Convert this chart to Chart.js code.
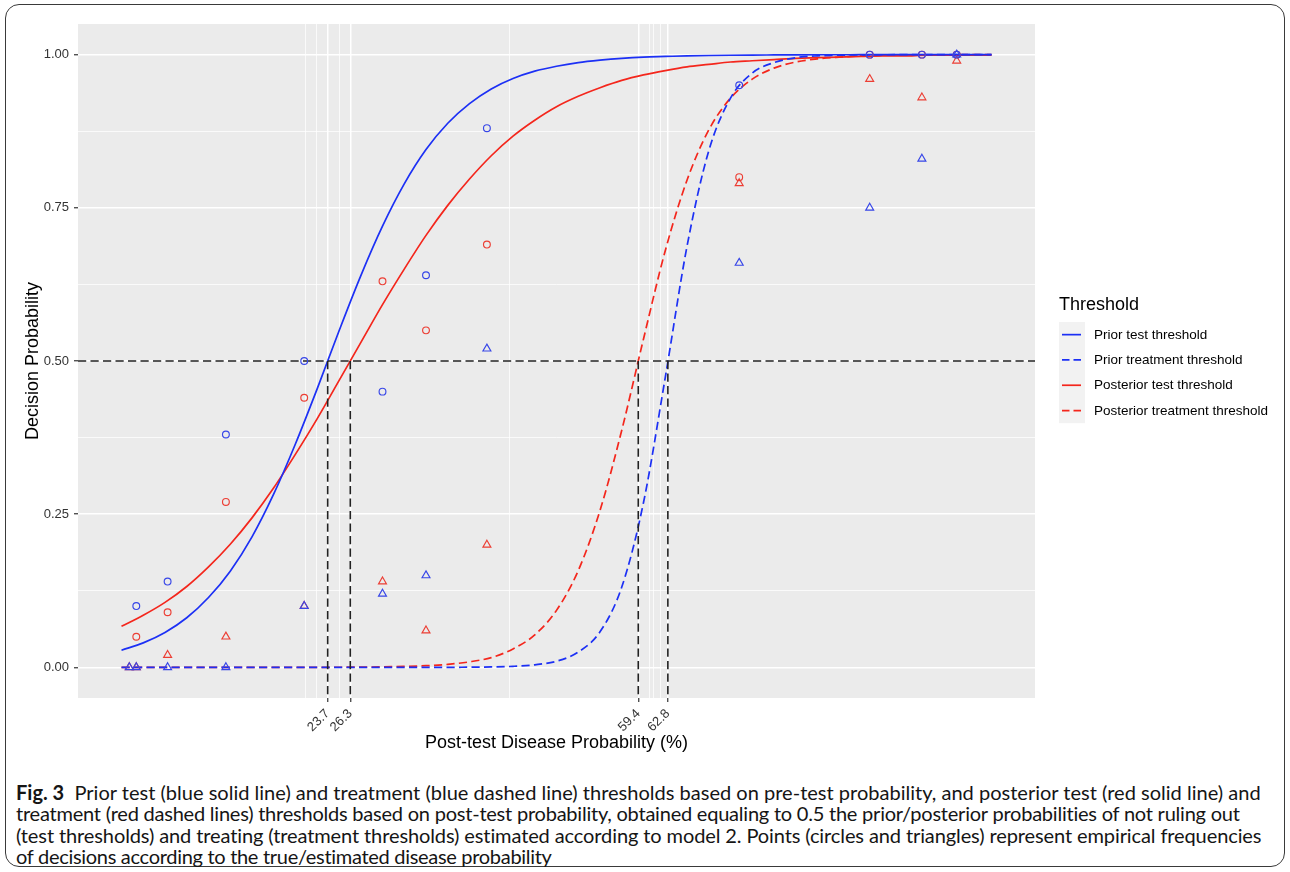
<!DOCTYPE html>
<html>
<head>
<meta charset="utf-8">
<script src="https://cdn.jsdelivr.net/npm/chart.js@4.4.1/dist/chart.umd.min.js"></script>
<style>
  html, body { margin: 0; padding: 0; background: #ffffff; }
  body { width: 1290px; height: 872px; position: relative; overflow: hidden; }
  #frame { position: absolute; left: 5px; top: 4px; width: 1280px; height: 863px; box-sizing: border-box;
           border: 1.5px solid #3a3a3a; border-radius: 14px; }
  #wrap { position: absolute; left: 0; top: 0; width: 1290px; height: 770px; }
  #c { display: block; }
  #caption { position: absolute; left: 16px; top: 782px; font-family: Lato, 'Open Sans', sans-serif;
             font-size: 18px; line-height: 21.4px; color: #151515; white-space: nowrap; }
  #caption div { height: 21.4px; }
  #caption b { font-weight: 700; }
</style>
</head>
<body>
<div id="frame"></div>
<div id="wrap"><canvas id="c" width="1290" height="770"></canvas></div>
<div id="caption">
  <div><span data-w="1246"><b>Fig. 3</b>&nbsp; Prior test (blue solid line) and treatment (blue dashed line) thresholds based on pre-test probability, and posterior test (red solid line) and</span></div>
  <div><span data-w="1224">treatment (red dashed lines) thresholds based on post-test probability, obtained equaling to 0.5 the prior/posterior probabilities of not ruling out</span></div>
  <div><span data-w="1246">(test thresholds) and treating (treatment thresholds) estimated according to model 2. Points (circles and triangles) represent empirical frequencies</span></div>
  <div><span data-w="536">of decisions according to the true/estimated disease probability</span></div>
</div>
<script>
// ---------------- data ----------------
const CURVE_X = [0, 2.5, 5, 7.5, 10, 12.5, 15, 17.5, 20, 22.5, 25, 27.5, 30, 32.5, 35, 37.5, 40, 42.5, 45, 47.5,
                 50, 52.5, 55, 57.5, 60, 62.5, 65, 67.5, 70, 72.5, 75, 77.5, 80, 82.5, 85, 87.5, 90, 92.5, 95, 97.5, 100];

const PRIOR_TEST = [0.028, 0.040, 0.057, 0.081, 0.114, 0.157, 0.213, 0.283, 0.365, 0.455, 0.549, 0.639, 0.720, 0.789, 0.845,
                    0.888, 0.920, 0.944, 0.961, 0.973, 0.981, 0.987, 0.991, 0.994, 0.996, 0.997, 0.998, 0.9986, 0.999, 0.9993,
                    0.9995, 0.9997, 0.9998, 0.9998, 0.9999, 0.9999, 0.9999, 1, 1, 1, 1];

const PRIOR_TREATMENT = [0, 0, 0, 0, 0, 0, 0, 0, 0, 0, 0, 0, 0, 0, 0, 0, 0.0003, 0.0007, 0.0017, 0.0042,
                         0.010, 0.025, 0.058, 0.131, 0.269, 0.473, 0.687, 0.843, 0.929, 0.970, 0.987, 0.995, 0.998, 0.9991,
                         0.9996, 0.9998, 0.9999, 1, 1, 1, 1];

const POSTERIOR_TEST = [0.067, 0.085, 0.106, 0.132, 0.164, 0.201, 0.244, 0.293, 0.348, 0.406, 0.468, 0.530, 0.592, 0.650, 0.705,
                        0.754, 0.797, 0.835, 0.867, 0.893, 0.915, 0.932, 0.946, 0.958, 0.967, 0.974, 0.980, 0.984, 0.988, 0.990,
                        0.992, 0.994, 0.995, 0.996, 0.997, 0.998, 0.998, 0.999, 0.999, 0.999, 0.999];

const POSTERIOR_TREATMENT = [0, 0, 0, 0, 0, 0, 0, 0, 0.0001, 0.0001, 0.0002, 0.0004, 0.0008, 0.0015, 0.0027, 0.0049, 0.009,
                             0.016, 0.030, 0.053, 0.093, 0.158, 0.256, 0.387, 0.536, 0.680, 0.795, 0.877, 0.929, 0.960, 0.978,
                             0.988, 0.993, 0.996, 0.998, 0.999, 0.9994, 0.9997, 0.9998, 0.9999, 0.9999];

// empirical frequencies (points)
const POINT_X = [0.9, 1.7, 5.3, 12, 21, 30, 35, 42, 71, 86, 92, 96];
const PRIOR_TEST_FREQ      = [null, 0.10, 0.14, 0.38, 0.50, 0.45, 0.64, 0.88, 0.95, 1.00, 1.00, 1.00];  // blue circles
const POSTERIOR_TEST_FREQ  = [null, 0.05, 0.09, 0.27, 0.44, 0.63, 0.55, 0.69, 0.80, 1.00, 1.00, 1.00];  // red circles
const PRIOR_TREAT_FREQ     = [0, 0, 0, 0, 0.10, 0.12, 0.15, 0.52, 0.66, 0.75, 0.83, 1.00];             // blue triangles
const POSTERIOR_TREAT_FREQ = [0, 0, 0.02, 0.05, 0.10, 0.14, 0.06, 0.20, 0.79, 0.96, 0.93, 0.99];       // red triangles

// thresholds (x axis tick labels) and decision level
const THRESHOLDS = [23.7, 26.3, 59.4, 62.8];
const THRESHOLD_LEVEL = 0.5;
const X_MINOR_BREAKS = [21.1, 22.4, 25.0, 44.55, 60.7, 61.1, 62.0];
const Y_MAJOR_BREAKS = [0, 0.25, 0.5, 0.75, 1];
const Y_MINOR_BREAKS = [0.125, 0.375, 0.625, 0.875];
const X_LIMITS = [-5, 105];
const Y_LIMITS = [-0.05, 1.05];

const LEGEND_TITLE = 'Threshold';
const SERIES_LABELS = ['Prior test threshold', 'Prior treatment threshold', 'Posterior test threshold', 'Posterior treatment threshold'];

// ---------------- styling ----------------
const BLUE = 'rgb(28,48,245)';
const RED = 'rgb(244,38,28)';
const BLUE_PT = 'rgb(55,70,232)';
const RED_PT = 'rgb(236,62,52)';
const DASH = [8.2, 4.3];
const FONT = "'Liberation Sans', Arial, Helvetica, sans-serif";

const toXY = (xs, ys) => xs.map((x, i) => ({ x: x, y: ys[i] })).filter(p => p.y !== null && p.y !== undefined);
const near = (a, b) => Math.abs(a - b) < 1e-6;
const isMajorX = v => THRESHOLDS.some(t => near(t, v));
const isMajorY = v => Y_MAJOR_BREAKS.some(t => near(t, v));

function curve(label, ys, color, dashed, order, legendIndex) {
  return {
    type: 'line', label: label, data: toXY(CURVE_X, ys), borderColor: color, backgroundColor: color,
    borderWidth: 1.7, borderDash: dashed ? DASH : [], pointRadius: 0, pointHoverRadius: 0,
    cubicInterpolationMode: 'monotone', fill: false, order: order, inLegend: true, legendIndex: legendIndex
  };
}
function pts(label, ys, color, style, r, order) {
  return {
    type: 'scatter', label: label, data: toXY(POINT_X, ys), borderColor: color, backgroundColor: 'rgba(0,0,0,0)',
    pointStyle: style, pointRadius: r, pointBorderWidth: 1.15, pointHoverRadius: r, showLine: false, order: order
  };
}
function refLine(data, order) {
  return {
    type: 'line', label: 'ref', data: data, borderColor: '#222222', borderWidth: 1.6, borderDash: DASH,
    pointRadius: 0, pointHoverRadius: 0, fill: false, order: order, tension: 0
  };
}

const datasets = [
  pts('Prior treatment frequency', PRIOR_TREAT_FREQ, BLUE_PT, 'triangle', 4.6, 0),
  pts('Prior test frequency', PRIOR_TEST_FREQ, BLUE_PT, 'circle', 3.4, 1),
  pts('Posterior treatment frequency', POSTERIOR_TREAT_FREQ, RED_PT, 'triangle', 4.6, 2),
  pts('Posterior test frequency', POSTERIOR_TEST_FREQ, RED_PT, 'circle', 3.4, 3),
  refLine([{ x: X_LIMITS[0], y: THRESHOLD_LEVEL }, { x: X_LIMITS[1], y: THRESHOLD_LEVEL }], 4),
  ...THRESHOLDS.map(t => refLine([{ x: t, y: THRESHOLD_LEVEL }, { x: t, y: Y_LIMITS[0] }], 4)),
  curve(SERIES_LABELS[0], PRIOR_TEST, BLUE, false, 5, 0),
  curve(SERIES_LABELS[1], PRIOR_TREATMENT, BLUE, true, 6, 1),
  curve(SERIES_LABELS[2], POSTERIOR_TEST, RED, false, 7, 2),
  curve(SERIES_LABELS[3], POSTERIOR_TREATMENT, RED, true, 8, 3)
];

// ---------------- plugins ----------------
const panelBg = {
  id: 'panelBg',
  beforeDraw(chart) {
    const { ctx, chartArea: a } = chart;
    ctx.save();
    ctx.fillStyle = '#EBEBEB';
    ctx.fillRect(a.left, a.top, a.right - a.left, a.bottom - a.top);
    ctx.restore();
  }
};

const ggLegend = {
  id: 'ggLegend',
  afterDraw(chart) {
    const { ctx, chartArea: a } = chart;
    const items = chart.data.datasets.filter(d => d.inLegend).sort((p, q) => p.legendIndex - q.legendIndex);
    const x0 = a.right + 24;
    const midY = (a.top + a.bottom) / 2;
    const keyW = 26, keyH = 25.3;
    const top = midY - 39;
    ctx.save();
    ctx.textBaseline = 'middle';
    ctx.textAlign = 'left';
    ctx.fillStyle = '#000';
    ctx.font = '18px ' + FONT;
    ctx.fillText(LEGEND_TITLE, x0, midY - 56);
    ctx.fillStyle = '#F2F2F2';
    ctx.fillRect(x0, top, keyW, keyH * items.length);
    items.forEach((d, i) => {
      const cy = top + keyH * (i + 0.5);
      ctx.beginPath();
      ctx.strokeStyle = d.borderColor;
      ctx.lineWidth = d.borderWidth;
      ctx.setLineDash(d.borderDash.length ? [7.5, 4] : []);
      ctx.moveTo(x0 + 3, cy);
      ctx.lineTo(x0 + 22, cy);
      ctx.stroke();
      ctx.setLineDash([]);
      ctx.fillStyle = '#000';
      ctx.font = '13.5px ' + FONT;
      ctx.fillText(d.label, x0 + 35, cy + 0.5);
    });
    ctx.restore();
  }
};

Chart.defaults.font.family = FONT;

new Chart(document.getElementById('c'), {
  type: 'scatter',
  data: { datasets: datasets },
  options: {
    responsive: false,
    animation: false,
    devicePixelRatio: 1,
    layout: { padding: { left: 0, right: 255, top: 24, bottom: 0 } },
    plugins: { legend: { display: false }, tooltip: { enabled: false } },
    scales: {
      x: {
        type: 'linear', min: X_LIMITS[0], max: X_LIMITS[1],
        afterBuildTicks: s => { s.ticks = [...THRESHOLDS, ...X_MINOR_BREAKS].sort((p, q) => p - q).map(v => ({ value: v })); },
        afterFit: s => { s.height = 72; },
        border: { display: false },
        grid: {
          color: '#FFFFFF',
          lineWidth: c => (c.tick && isMajorX(c.tick.value)) ? 1.5 : 0.75,
          drawTicks: true, tickLength: 4, tickWidth: 1.2,
          tickColor: c => (c.tick && isMajorX(c.tick.value)) ? '#333333' : 'rgba(0,0,0,0)'
        },
        ticks: {
          autoSkip: false, minRotation: 45, maxRotation: 45, padding: 4, color: '#333333',
          font: { size: 13 },
          callback: v => isMajorX(v) ? v.toFixed(1) : ''
        },
        title: { display: true, text: 'Post-test Disease Probability (%)', color: '#000', font: { size: 18 }, padding: { top: 0, bottom: 16 } }
      },
      y: {
        type: 'linear', min: Y_LIMITS[0], max: Y_LIMITS[1],
        afterBuildTicks: s => { s.ticks = [...Y_MAJOR_BREAKS, ...Y_MINOR_BREAKS].sort((p, q) => p - q).map(v => ({ value: v })); },
        afterFit: s => { s.width = 78; },
        border: { display: false },
        grid: {
          color: '#FFFFFF',
          lineWidth: c => (c.tick && isMajorY(c.tick.value)) ? 1.5 : 0.75,
          drawTicks: true, tickLength: 4, tickWidth: 1.2,
          tickColor: c => (c.tick && isMajorY(c.tick.value)) ? '#333333' : 'rgba(0,0,0,0)'
        },
        ticks: {
          autoSkip: false, padding: 5, color: '#333333', font: { size: 13 },
          callback: v => isMajorY(v) ? v.toFixed(2) : ''
        },
        title: { display: true, text: 'Decision Probability', color: '#000', font: { size: 18 }, padding: { top: 22, bottom: 0 } }
      }
    }
  },
  plugins: [panelBg, ggLegend]
});

// fit the caption lines to the widths they have in the reference figure
function fitCaption() {
  const cap = document.getElementById('caption');
  const spans = Array.from(cap.querySelectorAll('span'));
  const base = 18;
  cap.style.fontSize = base + 'px';
  spans.forEach(s => { s.style.letterSpacing = '0px'; });
  const w0 = spans[0].getBoundingClientRect().width;
  if (!(w0 > 0)) return;
  const size = base * (+spans[0].dataset.w) / w0;
  cap.style.fontSize = size.toFixed(2) + 'px';
  spans.slice(1).forEach(s => {
    const w = s.getBoundingClientRect().width;
    const n = s.textContent.length;
    const target = +s.dataset.w;
    if (w > 0 && n > 1) {
      const ls = Math.max(-0.4, Math.min(0.4, (target - w) / n));
      s.style.letterSpacing = ls.toFixed(3) + 'px';
    }
  });
}
fitCaption();
if (document.fonts && document.fonts.ready) document.fonts.ready.then(fitCaption);
</script>
</body>
</html>
